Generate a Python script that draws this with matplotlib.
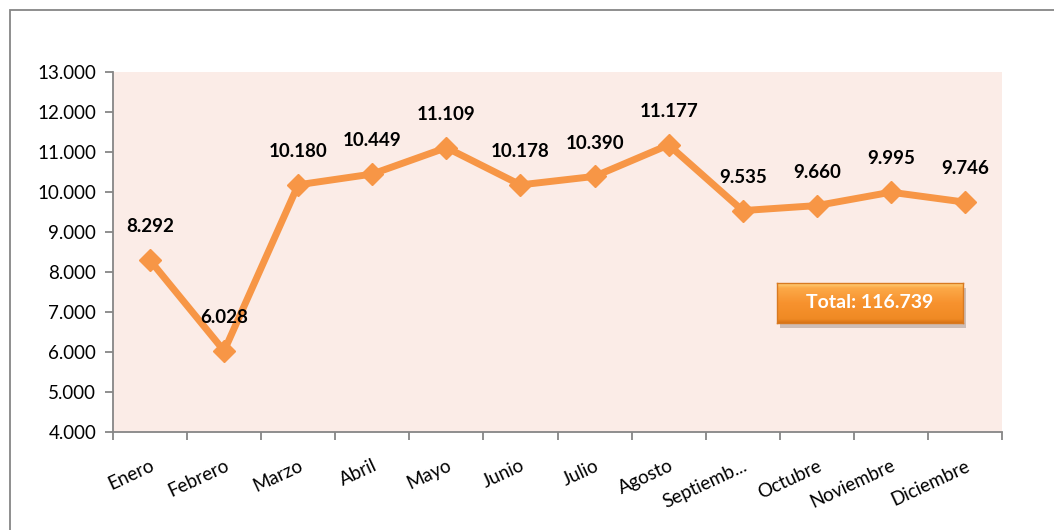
"""
Monthly totals line chart with value labels and a total box.
"""
import matplotlib
matplotlib.use("Agg")
import matplotlib.pyplot as plt
import numpy as np
from matplotlib.patches import Rectangle
from matplotlib.colors import LinearSegmentedColormap

MONTHS = ["Enero", "Febrero", "Marzo", "Abril", "Mayo", "Junio", "Julio",
          "Agosto", "Septiemb...", "Octubre", "Noviembre", "Diciembre"]
VALUES = [8292, 6028, 10180, 10449, 11109, 10178, 10390,
          11177, 9535, 9660, 9995, 9746]
TOTAL_LABEL = "Total: 116.739"
YTICKS = np.arange(4000, 13001, 1000)

ORANGE = "#F79646"
GRID_GRAY = "#868686"

plt.rcParams["font.family"] = ["Lato", "DejaVu Sans"]

def fmt(v):
    return f"{v:,.0f}".replace(",", ".")

fig = plt.figure(figsize=(10.54, 5.30), dpi=100)
W, H = 1054, 530

# outer chart border
fig.patches.append(Rectangle((10 / W, -0.05), 1.1, 1 - 10 / H + 0.05,
                             transform=fig.transFigure, fill=False,
                             edgecolor=GRID_GRAY, linewidth=1.3))

ax = fig.add_axes([113 / W, 1 - 432 / H, (1002 - 113) / W, (432 - 72) / H])
ax.set_facecolor("#FBECE7")

x = np.arange(len(MONTHS))
ax.plot(x, VALUES, color=ORANGE, linewidth=5, marker="D", markersize=11,
        markerfacecolor=ORANGE, markeredgecolor=ORANGE, zorder=3)

for xi, v in zip(x, VALUES):
    ax.annotate(fmt(v), (xi, v), xytext=(0, 24), textcoords="offset points",
                ha="center", va="center", fontsize=13.5, fontweight="bold",
                color="black")

ax.set_xlim(-0.5, len(MONTHS) - 0.5)
ax.set_ylim(4000, 13000)
ax.set_yticks(YTICKS)
ax.set_yticklabels([fmt(v) for v in YTICKS], fontsize=13.5)

ax.set_xticks(np.arange(-0.5, len(MONTHS)), minor=False)
ax.set_xticklabels([])
ax.set_xticks(x, minor=True)
ax.set_xticklabels(MONTHS, minor=True, rotation=25, ha="right",
                   rotation_mode="anchor", fontsize=13.5)
ax.tick_params(axis="x", which="minor", length=0, pad=18)
ax.tick_params(axis="x", which="major", length=6, color=GRID_GRAY, width=1.3)
ax.tick_params(axis="y", length=6, color=GRID_GRAY, width=1.3, pad=6)

for s in ["top", "right"]:
    ax.spines[s].set_visible(False)
for s in ["left", "bottom"]:
    ax.spines[s].set_color(GRID_GRAY)
    ax.spines[s].set_linewidth(1.3)

# total box with shadow and vertical gradient
bx, by, bw, bh = 777 / W, 1 - 323 / H, 186 / W, 40 / H
fig.patches.append(Rectangle((bx + 3 / W, by - 5 / H), bw, bh,
                             transform=fig.transFigure, facecolor="#A89890",
                             edgecolor="none", alpha=0.55, zorder=5))
box = fig.add_axes([bx, by, bw, bh], zorder=6)
cmap = LinearSegmentedColormap.from_list(
    "btn", [(0.0, "#FFD27A"), (0.12, "#FCA948"), (0.5, "#F7922E"),
            (0.9, "#F08A24"), (1.0, "#D87418")])
grad = np.linspace(0, 1, 100).reshape(-1, 1)
box.imshow(grad, aspect="auto", cmap=cmap, extent=(0, 1, 0, 1), origin="upper")
box.set_xticks([])
box.set_yticks([])
for s in box.spines.values():
    s.set_color("#D87A22")
    s.set_linewidth(1)
box.text(0.5, 0.5, TOTAL_LABEL, ha="center", va="center", color="white",
         fontsize=14, fontweight="bold", transform=box.transAxes)

fig.savefig("out.png", dpi=100)
